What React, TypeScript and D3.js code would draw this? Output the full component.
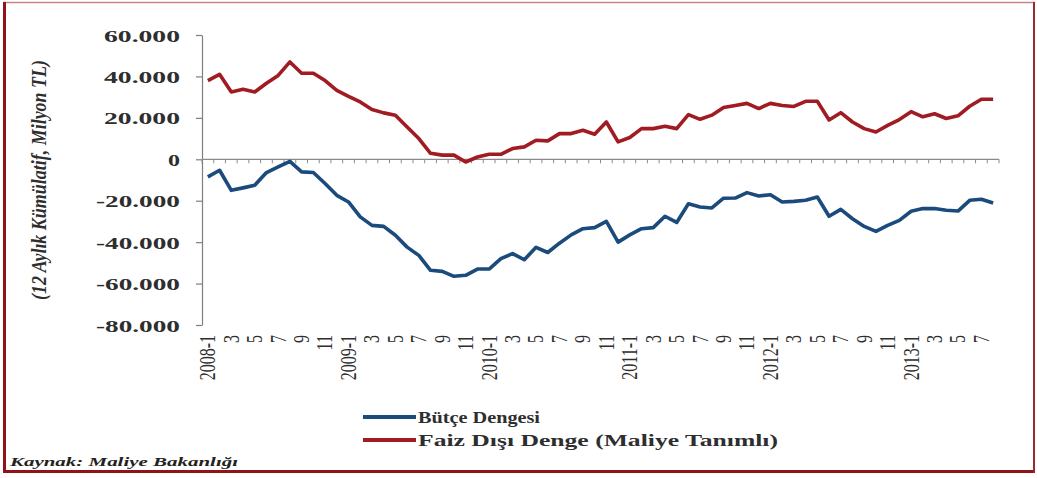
import React, { useEffect, useRef } from "react";
import * as d3 from "d3";

const years = [2008, 2009, 2010, 2011, 2012, 2013];
const monthsInLastYear = 8;
const categories: string[] = [];
years.forEach((y) => {
  const n = y === 2013 ? monthsInLastYear : 12;
  for (let m = 1; m <= n; m++) categories.push(`${y}-${m}`);
});

// Bütçe Dengesi (12-month cumulative, million TL)
const butceDengesi = [
  -8500, -5300, -15000, -13800, -12500, -6400, -3700, -1000, -6100, -6400, -11700, -17400,
  -20600, -27800, -31900, -32400, -36700, -42400, -46400, -53600, -54100, -56500, -56000, -53000,
  -53000, -48000, -45500, -48500, -42500, -45000, -40500, -36500, -33500, -33000, -30000, -40000,
  -36500, -33500, -33000, -27500, -30500, -21500, -23000, -23500, -18800, -18700, -16100, -17700,
  -17100, -20600, -20300, -19800, -18200, -27500, -24200, -28700, -32400, -34800, -31900, -29500,
  -25100, -23800, -23800, -24600, -25000, -19800, -19300, -21100,
];

// Faiz Dışı Denge (Maliye Tanımlı)
const faizDisiDenge = [
  38000, 41000, 32500, 33800, 32500, 36700, 40500, 47000, 41500, 41500, 38000, 33300,
  30400, 27700, 24000, 22400, 21300, 15600, 10000, 2900, 2000, 2000, -1300, 1100,
  2400, 2400, 5200, 6000, 9200, 8900, 12400, 12400, 14000, 12100, 18000, 8400,
  10500, 14800, 14800, 15900, 14800, 21600, 19300, 21300, 25000, 26000, 27000, 24500,
  27000, 26000, 25500, 28000, 28000, 19000, 22500, 18000, 14800, 13200, 16400, 19200,
  23000, 20500, 22000, 19700, 21000, 25600, 29000, 29000,
];

const yTicks = [60000, 40000, 20000, 0, -20000, -40000, -60000, -80000];

const seriesNames = ["Bütçe Dengesi", "Faiz Dışı Denge (Maliye Tanımlı)"];
const seriesColors = ["#1b4a7c", "#a01c22"];

const W = 1037;
const H = 478;
const X0 = 202;
const X1 = 999;
const Y0 = 35;
const Y1 = 325;
const SERIF = "'Liberation Serif', 'Times New Roman', serif";

function fmt(v: number): string {
  if (v === 0) return "0";
  const s = Math.abs(v).toString().replace(/\B(?=(\d{3})+(?!\d))/g, ".");
  return (v < 0 ? "-" : "") + s;
}

function labelFor(c: string): string {
  const [y, m] = c.split("-");
  return m === "1" ? `${y}-1` : m;
}

export default function App() {
  const ref = useRef<SVGSVGElement | null>(null);

  useEffect(() => {
    const svg = d3.select(ref.current);
    svg.selectAll("*").remove();

    // frame
    svg.append("rect").attr("x", 0).attr("y", 0).attr("width", W).attr("height", H).attr("fill", "#ffffff");
    svg.append("rect").attr("x", 4).attr("y", 2.5).attr("width", 1030).attr("height", 469)
      .attr("fill", "none").attr("stroke", "#c9868a").attr("stroke-width", 1.5);
    svg.append("line").attr("x1", 4.5).attr("x2", 4.5).attr("y1", 2).attr("y2", 473)
      .attr("stroke", "#8e1418").attr("stroke-width", 3);
    svg.append("line").attr("x1", 3).attr("x2", 1035).attr("y1", 471.5).attr("y2", 471.5)
      .attr("stroke", "#8e1418").attr("stroke-width", 3);
    svg.append("line").attr("x1", 1034).attr("x2", 1034).attr("y1", 2).attr("y2", 473)
      .attr("stroke", "#9a2a2e").attr("stroke-width", 2);

    const x = d3.scaleBand<string>().domain(categories).range([X0, X1]).padding(0);
    const y = d3.scaleLinear().domain([-80000, 60000]).range([Y1, Y0]);
    const cx = (c: string) => (x(c) as number) + x.bandwidth() / 2;

    // y axis
    const yAxis = d3.axisLeft(y).tickValues(yTicks).tickSize(6).tickSizeOuter(0).tickFormat((v) => fmt(+v));
    const gy = svg.append("g").attr("transform", `translate(${X0},0)`).call(yAxis);
    gy.select(".domain").attr("stroke", "#7f7f7f").attr("stroke-width", 1.2);
    gy.selectAll(".tick line").attr("stroke", "#7f7f7f").attr("stroke-width", 1.2);
    gy.selectAll<SVGTextElement, number>(".tick text")
      .attr("x", -22)
      .attr("dy", "0.36em")
      .attr("fill", "#2e2e2e")
      .attr("font-family", SERIF)
      .attr("font-weight", "bold")
      .attr("font-size", 17)
      .attr("text-anchor", "start")
      .each(function (d) {
        const len = fmt(d).length;
        const w = len === 1 ? 12 : len === 6 ? 76 : 84;
        d3.select(this).attr("x", -22 - w).attr("textLength", w).attr("lengthAdjust", "spacingAndGlyphs");
      });

    // x axis at zero with tick marks between categories
    const gx = svg.append("g");
    gx.append("line").attr("x1", X0).attr("x2", X1).attr("y1", y(0)).attr("y2", y(0))
      .attr("stroke", "#8a8a8a").attr("stroke-width", 1.2);
    gx.selectAll("line.tk").data(categories.concat(["end"])).join("line").attr("class", "tk")
      .attr("x1", (c, i) => X0 + i * x.bandwidth())
      .attr("x2", (c, i) => X0 + i * x.bandwidth())
      .attr("y1", y(0)).attr("y2", y(0) + 4)
      .attr("stroke", "#8a8a8a").attr("stroke-width", 1);

    // x labels (every other month), rotated
    const labelCats = categories.filter((c) => +c.split("-")[1] % 2 === 1);
    svg.append("g").selectAll("text").data(labelCats).join("text")
      .attr("transform", (c) => `translate(${cx(c)},${Y1 + 10}) rotate(-90) scale(1,1.4)`)
      .attr("text-anchor", "end")
      .attr("dy", "0.33em")
      .attr("font-family", SERIF)
      .attr("font-size", 16)
      .attr("fill", "#2e2e2e")
      .text((c) => labelFor(c));

    // y title
    svg.append("text")
      .attr("transform", `translate(46,180) rotate(-90) scale(1,1.35)`)
      .attr("x", -120)
      .attr("text-anchor", "start")
      .attr("font-family", SERIF)
      .attr("font-style", "italic")
      .attr("font-weight", "bold")
      .attr("font-size", 15)
      .attr("fill", "#2e2e2e")
      .attr("textLength", 240)
      .attr("lengthAdjust", "spacingAndGlyphs")
      .text("(12 Aylık Kümülatif, Milyon TL)");

    // lines
    const line = d3.line<number>().x((d, i) => cx(categories[i])).y((d) => y(d)).curve(d3.curveLinear);
    [butceDengesi, faizDisiDenge].forEach((s, k) => {
      svg.append("path").datum(s).attr("d", line).attr("fill", "none")
        .attr("stroke", seriesColors[k]).attr("stroke-width", 3.6)
        .attr("stroke-linejoin", "round");
    });

    // legend
    const lg = svg.append("g");
    const legendY = [417, 440];
    const legendW = [122, 360];
    seriesNames.forEach((n, k) => {
      lg.append("line").attr("x1", 363).attr("x2", 416).attr("y1", legendY[k]).attr("y2", legendY[k])
        .attr("stroke", seriesColors[k]).attr("stroke-width", 3.8);
      lg.append("text").attr("x", 418).attr("y", legendY[k]).attr("dy", "0.35em")
        .attr("font-family", SERIF).attr("font-weight", "bold").attr("font-size", 16)
        .attr("fill", "#2e2e2e")
        .attr("textLength", legendW[k]).attr("lengthAdjust", "spacingAndGlyphs")
        .text(n);
    });

    // source
    svg.append("text").attr("x", 10).attr("y", 466)
      .attr("font-family", SERIF).attr("font-style", "italic").attr("font-weight", "bold")
      .attr("font-size", 13).attr("fill", "#222")
      .attr("textLength", 228).attr("lengthAdjust", "spacingAndGlyphs")
      .text("Kaynak: Maliye Bakanlığı");
  }, []);

  return (
    <svg
      ref={ref}
      width={W}
      height={H}
      style={{ position: "absolute", left: 0, top: 0, display: "block" }}
    />
  );
}
